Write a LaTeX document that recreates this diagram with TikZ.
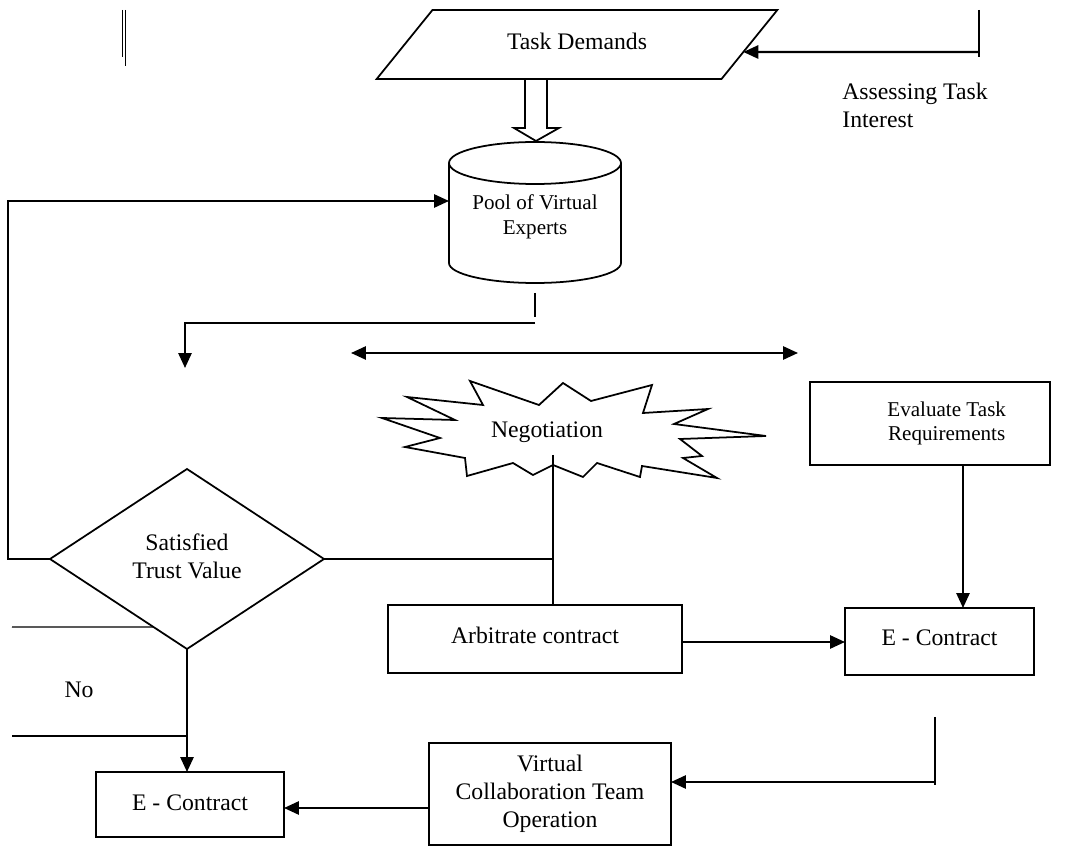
\documentclass[tikz,border=0pt]{standalone}
\usepackage{fontspec}
\setmainfont{Liberation Serif}
\usetikzlibrary{positioning,shapes.geometric,arrows.meta,calc}
\tikzset{pbox/.style 2 args={draw,line width=1pt,inner sep=0pt,outer sep=0pt,minimum width=#1*0.02cm,minimum height=#2*0.02cm},
	 ptxt/.style={inner sep=0pt,align=center,font=\fontsize{13.5}{16}\selectfont},
	 stxt/.style={inner sep=0pt,align=center,font=\fontsize{12}{14.2}\selectfont},
	 ln/.style={line width=1pt},
	 arr/.style={line width=1.2pt,-{Triangle[length=8.5pt,width=7.5pt]}},
	 darr/.style={line width=1.2pt,{Triangle[length=8.5pt,width=7.5pt]}-{Triangle[length=8.5pt,width=7.5pt]}}
	 }

\begin{document}
\begin{tikzpicture}[x=0.02cm,y=-0.02cm] % task flow
	\useasboundingbox (0,0) rectangle (1073,847);
	\node[trapezium,trapezium stretches=true,trapezium left angle=41,trapezium right angle=139,pbox={401}{69},ptxt] (td) at (577,44.5) {\raisebox{4pt}{Task Demands}};
	\node[stxt] (pool) at (535,217) {Pool of Virtual\\Experts};
	\node[ptxt] (nego) at (547,432) {Negotiation};
	\node[pbox={240}{83},stxt] (evt) at (930,423.5) {\hspace*{19pt}\raisebox{3.7pt}{\begin{tabular}{@{}c@{}}Evaluate Task\\Requirements\end{tabular}}};
	\node[diamond,pbox={274}{180},ptxt] (trust) at (187,559) {\raisebox{5pt}{\begin{tabular}{@{}c@{}}Satisfied\\Trust Value\end{tabular}}};
	\node[pbox={294}{68},ptxt] (arb) at (535,639) {\raisebox{4pt}{Arbitrate contract}};
	\node[pbox={189}{67},ptxt] (ecr) at (939.5,641.5) {\raisebox{4pt}{E - Contract}};
	\node[pbox={242}{102},ptxt] (vct) at (550,794) {Virtual\\Collaboration Team\\Operation};
	\node[pbox={188}{65},ptxt] (ecl) at (190,804.5) {\raisebox{2pt}{E - Contract}};
	\node[ptxt,align=left,anchor=west] (ati) at (842,105) {Assessing Task\\Interest};
	\node[ptxt] (no) at (79,690) {No};
	% shapes drawn by hand
	\draw[ln] (122.5,10) -- (122.5,57);
	\draw[ln] (125.5,10) -- (125.5,66);
	\draw[ln] (525,79) -- (525,128) -- (514,128) -- (536,141) -- (559,128) -- (547,128) -- (547,79);
	\draw[ln] (535,163) ellipse[x radius=86,y radius=21];
	\draw[ln] (449,163) -- (449,263) arc[start angle=180,end angle=0,x radius=86,y radius=20] -- (621,163);
	\draw[ln] (470,381) -- (539,405) -- (563,383) -- (591,401) -- (652,385) -- (643,413) -- (708,409) -- (674,424) -- (766,436) -- (680,439) -- (702,456) -- (683,458) -- (717,478) -- (642,466) -- (640,477) -- (597,463) -- (583,477) -- (553,465) -- (533,475) -- (513,463) -- (467,476) -- (465,458) -- (405,447) -- (440,438) -- (382,418) -- (455,420) -- (407,397) -- (483,405) -- cycle;
	% connectors
	\coordinate (ai) at (979,52);
	\coordinate (pin) at (449,201);
	\coordinate (pout) at (535,323);
	\coordinate (nv) at (553,455);
	\coordinate (c1) at (963,0);
	\coordinate (c2) at (935,782);
	\coordinate (c3) at (0,808);
	\coordinate (c4) at (0,642);
	\draw[ln] (979,10) -- (979,57);
	\draw[arr] (ai) -- ($(td.top right corner)!0.6087!(td.bottom right corner)$);
	\draw[arr] (trust.west) -- ++(-42,0) |- (pin);
	\draw[ln] (535,293) -- (535,317);
	\draw[arr] (pout) -| (185,368);
	\draw[darr] (351,353) -- (798,353);
	\draw[ln] (nv) -- (nv |- arb.north);
	\draw[ln] (trust.east) -- (trust.east -| nv);
	\draw[ln,line width=0.8pt] (12,627) -- ($(trust.west)!0.756!(trust.south)$);
	\draw[ln,line width=0.8pt] (12,736) -- (187,736);
	\draw[arr] (trust.south) -- (trust.south |- ecl.north);
	\draw[arr] (arb.east |- c4) -- (ecr.west |- c4);
	\draw[arr] (evt.south -| c1) -- (ecr.north -| c1);
	\draw[ln] (935,717) -- (935,785);
	\draw[arr] (c2) -- (c2 -| vct.east);
	\draw[arr] (vct.west |- c3) -- (ecl.east |- c3);
\end{tikzpicture}
\end{document}
